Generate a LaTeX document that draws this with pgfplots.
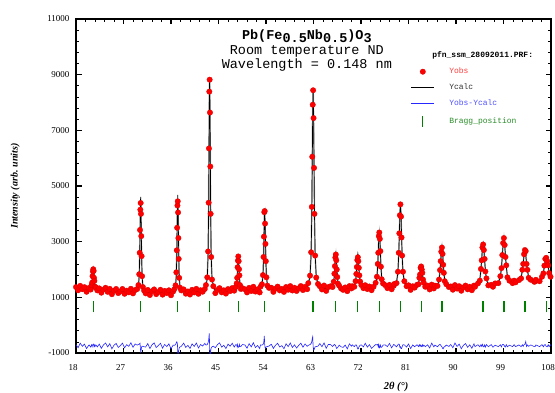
\documentclass[border=0pt]{standalone}
\usepackage{fontspec}
\setmainfont{Liberation Serif}
\setmonofont{Liberation Mono}
\usepackage{pgfplots}
\usepackage{pgfplotstable}
\pgfplotsset{compat=1.18}
\pgfplotsset{legend image code/.code={\draw[mark repeat=2,mark phase=2,#1] plot coordinates {(0cm,0cm) (0.4cm,0cm) (0.8cm,0cm)}; \path[draw=none,fill=none] (0cm,0cm) -- (1.33cm,0cm);}}
\pgfdeclareplotmark{vbar}{\pgfpathmoveto{\pgfqpoint{0pt}{-\pgfplotmarksize}}\pgfpathlineto{\pgfqpoint{0pt}{\pgfplotmarksize}}\pgfusepathqstroke}
\definecolor{obsred}{RGB}{255,0,0}
\definecolor{braggreen}{RGB}{0,128,0}
\definecolor{legred}{RGB}{255,60,60}
\definecolor{legblue}{RGB}{80,80,255}
\definecolor{leggreen}{RGB}{40,140,40}
\pgfplotstableread{
x y
21.27 660
30.25 660
37.28 660
43.32 660
48.75 660
53.75 660
62.93 660
67.23 660
71.40 660
75.47 660
79.47 660
83.40 660
87.33 660
95.14 660
99.07 660
103.05 660
107.10 660
}\bragg
\pgfplotstableread{
x obs calc
18.0 1370 1330
18.4 1254 1324
18.8 1413 1318
19.2 1292 1312
19.6 1366 1306
20.0 1200 1300
20.4 1310 1295
20.50 1340 1310
20.78 1280 1326
20.96 1440 1405
21.06 1530 1557
21.13 1760 1723
21.20 1930 1900
21.27 2010 1985
21.34 1950 1900
21.41 1700 1723
21.48 1590 1557
21.59 1380 1405
21.76 1360 1326
22.04 1250 1290
22.4 1323 1263
22.8 1167 1257
23.2 1280 1250
23.6 1343 1243
24.0 1197 1237
24.4 1305 1230
24.8 1113 1223
25.2 1239 1219
25.6 1301 1216
26.0 1153 1213
26.4 1214 1209
26.8 1301 1206
27.2 1128 1203
27.6 1240 1200
28.0 1180 1200
28.4 1308 1198
28.8 1142 1197
29.2 1260 1195
29.59 1300 1276
29.83 1440 1392
29.98 1830 1775
30.07 2600 2520
30.13 3420 3331
30.19 4150 4193
30.25 4390 4610
30.31 4000 4193
30.37 3200 3331
30.43 2480 2520
30.52 1760 1775
30.67 1370 1392
30.91 1240 1276
31.2 1143 1188
31.6 1266 1186
32.0 1084 1184
32.4 1217 1182
32.8 1285 1180
33.2 1115 1180
33.6 1191 1181
34.0 1271 1181
34.4 1097 1182
34.8 1232 1182
35.2 1153 1183
35.6 1253 1183
36.0 1074 1184
36.4 1209 1184
36.62 1290 1273
36.86 1430 1392
37.01 1900 1784
37.10 2690 2547
37.16 3500 3376
37.22 4300 4258
37.28 4450 4685
37.34 4050 4258
37.40 3130 3376
37.46 2380 2547
37.55 1700 1784
37.70 1350 1392
37.94 1250 1273
38.4 1285 1190
38.8 1132 1192
39.2 1210 1195
39.6 1102 1197
40.0 1270 1200
40.4 1177 1202
40.8 1305 1205
41.2 1127 1207
41.6 1255 1210
42.0 1202 1212
42.4 1300 1215
42.62 1440 1416
42.87 1720 1676
43.03 2650 2533
43.13 4400 4201
43.19 6350 6014
43.26 8390 7942
43.32 8820 8875
43.38 7640 7942
43.45 5700 6014
43.51 4000 4201
43.61 2450 2533
43.77 1640 1676
44.02 1400 1416
44.4 1152 1222
44.8 1264 1224
45.2 1331 1226
45.6 1179 1229
46.0 1252 1232
46.4 1135 1235
46.8 1297 1237
47.2 1225 1240
47.6 1333 1243
47.98 1240 1286
48.26 1370 1329
48.44 1500 1469
48.54 1700 1741
48.61 2080 2038
48.68 2320 2353
48.75 2470 2505
48.82 2300 2353
48.89 2010 2038
48.96 1790 1741
49.07 1440 1469
49.24 1300 1329
49.52 1330 1286
50.0 1290 1260
50.4 1177 1262
50.8 1340 1265
51.2 1227 1267
51.6 1380 1270
52.0 1207 1272
52.4 1284 1274
52.8 1177 1277
52.94 1380 1352
53.23 1470 1446
53.42 1800 1755
53.53 2450 2357
53.60 3180 3011
53.68 4060 3706
53.75 4100 4043
53.82 3650 3706
53.90 2920 3011
53.97 2300 2357
54.08 1720 1755
54.27 1420 1446
54.56 1340 1352
55.0 1345 1290
55.4 1197 1292
55.8 1313 1293
56.2 1385 1295
56.6 1251 1296
57.0 1303 1298
57.4 1195 1300
57.8 1371 1301
58.2 1273 1303
58.6 1404 1304
59.0 1246 1306
59.4 1343 1308
59.8 1229 1309
60.2 1326 1311
60.6 1406 1311
61.0 1262 1312
61.4 1377 1312
61.8 1293 1313
62.01 1510 1494
62.34 1780 1737
62.55 2620 2538
62.68 4250 4096
62.76 6050 5791
62.85 7920 7593
62.93 8440 8465
63.01 7440 7593
63.10 5650 5791
63.18 4000 4096
63.31 2500 2538
63.52 1710 1737
63.85 1480 1494
64.2 1398 1318
64.6 1284 1319
65.0 1425 1320
65.4 1231 1321
65.8 1367 1322
66.24 1400 1356
66.60 1370 1398
66.83 1560 1535
66.96 1850 1803
67.05 2120 2095
67.14 2430 2405
67.23 2540 2555
67.32 2330 2405
67.41 2000 2095
67.50 1730 1803
67.63 1490 1535
67.86 1420 1398
68.22 1320 1356
68.6 1269 1329
69.0 1355 1330
69.4 1222 1332
69.8 1404 1334
70.2 1321 1336
70.34 1400 1368
70.73 1380 1410
70.97 1580 1547
71.11 1840 1811
71.21 2090 2102
71.30 2340 2409
71.40 2440 2558
71.50 2300 2409
71.59 2060 2102
71.69 1790 1811
71.83 1570 1547
72.07 1440 1410
72.46 1330 1368
72.8 1436 1346
73.2 1298 1348
73.6 1390 1350
74.0 1257 1352
74.37 1380 1406
74.77 1520 1476
75.02 1740 1706
75.17 2200 2152
75.27 2600 2638
75.37 3200 3155
75.47 3330 3405
75.57 3100 3155
75.67 2660 2638
75.77 2100 2152
75.92 1650 1706
76.17 1500 1476
76.57 1440 1406
77.0 1331 1361
77.4 1448 1363
77.8 1289 1364
78.2 1416 1366
78.30 1480 1445
78.73 1510 1547
78.99 1920 1883
79.15 2600 2537
79.26 3300 3248
79.36 3950 4004
79.47 4340 4370
79.58 3900 4004
79.68 3150 3248
79.79 2500 2537
79.95 1920 1883
80.21 1580 1547
80.64 1400 1445
81.0 1434 1369
81.4 1268 1368
81.8 1397 1367
82.17 1350 1385
82.62 1450 1411
82.90 1470 1496
83.06 1700 1662
83.18 1820 1842
83.29 2060 2033
83.40 2110 2126
83.51 2000 2033
83.62 1880 1842
83.74 1640 1662
83.90 1520 1496
84.18 1380 1411
84.63 1420 1385
85.0 1285 1365
85.4 1458 1363
85.8 1321 1361
86.01 1420 1395
86.49 1410 1445
86.79 1640 1609
86.97 1980 1930
87.09 2300 2278
87.21 2640 2649
87.33 2790 2828
87.45 2560 2649
87.57 2170 2278
87.69 1880 1930
87.87 1580 1609
88.17 1470 1445
88.65 1370 1395
89.0 1390 1345
89.4 1273 1343
89.8 1441 1341
90.2 1315 1340
90.6 1401 1341
91.0 1237 1342
91.4 1357 1342
91.8 1423 1343
92.2 1288 1343
92.6 1379 1344
93.0 1255 1345
93.4 1422 1352
93.60 1380 1409
94.16 1500 1462
94.51 1600 1637
94.72 2020 1977
94.86 2330 2347
95.00 2790 2740
95.14 2900 2930
95.28 2700 2740
95.42 2380 2347
95.56 1930 1977
95.77 1680 1637
96.12 1430 1462
96.68 1450 1409
97.0 1380 1430
97.42 1500 1480
98.02 1510 1540
98.40 1760 1725
98.62 2050 2090
98.77 2520 2480
98.92 2950 2900
99.07 3130 3100
99.22 2880 2905
99.37 2450 2495
99.52 2150 2110
99.74 1720 1755
100.12 1600 1580
100.72 1510 1540
101.0 1600 1560
101.29 1540 1570
101.93 1620 1590
102.33 1680 1710
102.57 1990 1955
102.73 2200 2222
102.89 2550 2507
103.05 2700 2645
103.21 2660 2507
103.37 2200 2225
103.53 1990 1960
103.77 1700 1720
104.17 1630 1600
104.81 1560 1590
105.0 1570 1600
105.12 1630 1600
105.84 1580 1610
106.29 1740 1700
106.56 1860 1895
106.74 2140 2110
106.92 2380 2337
107.10 2420 2447
107.28 2300 2337
107.46 2150 2113
107.64 1870 1900
107.91 1740 1705
108.36 1560 1600
}\pattern
\pgfplotstablecreatecol[expr={\thisrow{obs}-\thisrow{calc}-740}]{diff}\pattern

\begin{document}
\begin{tikzpicture}
\begin{axis}[
  width=475pt, height=334pt, scale only axis,
  xmin=18, xmax=108, ymin=-1000, ymax=11000,
  xtick={18,27,...,108}, ytick={-1000,1000,...,11000},
  minor x tick num=4, minor y tick num=4,
  tick align=inside,
  major tick length=5.5pt, minor tick length=3pt,
  every major tick/.append style={line width=1.6pt, black},
  every minor tick/.append style={line width=0.7pt, black},
  axis line style={line width=2pt},
  /pgf/number format/assume math mode=true,
  /pgf/number format/1000 sep={},
  scaled ticks=false,
  ticklabel style={font=\fontsize{9}{10}\selectfont},
  xticklabel style={yshift=-8pt, xshift=-3pt},
  yticklabel style={xshift=-3pt},
  xlabel={\textbf{\textit{2θ (°)}}},
  xlabel style={at={(axis description cs:0.674,-0.101)}, anchor=center, font=\fontsize{10.5}{12}\selectfont},
  ylabel={\textbf{\textit{Intensity (arb. units)}}},
  ylabel style={at={(axis description cs:-0.128,0.5)}, anchor=center, font=\fontsize{10}{12}\selectfont},
  legend style={at={(axis description cs:0.705,0.902)}, anchor=north west,
    draw=none, fill=none, inner sep=0pt, row sep=8.5pt,
    font=\fontsize{8}{9}\selectfont\ttfamily,
    nodes={inner sep=0pt, text height=6pt, text depth=1.5pt}},
  legend cell align=left,
]
\addlegendimage{empty legend}
\addlegendentry{\hspace*{-17pt}\textbf{pfn\_ssm\_28092011.PRF:}}
\addplot[gray!55, line width=1.6pt, forget plot] table[x=x, y=obs] {\pattern};
\addplot[only marks, mark=*, mark size=2.75pt, color=obsred, mark options={fill=obsred, draw=obsred!85!black, line width=0.3pt}] table[x=x, y=obs] {\pattern};
\addlegendentry{\textcolor{legred}{Yobs}}
\addplot[black, line width=0.7pt] table[x=x, y=calc] {\pattern};
\addlegendentry{\textcolor{black!80}{Ycalc}}
\addplot[blue!85, line width=0.6pt] table[x=x, y=diff] {\pattern};
\addlegendentry{\textcolor{legblue}{Yobs-Ycalc}}
\addplot[only marks, mark=vbar, mark size=5.5pt, draw=braggreen, line width=1.3pt] table[x=x, y=y] {\bragg};
\addlegendentry{\textcolor{leggreen}{Bragg\_position}}
\node[anchor=base, font=\fontsize{13.5}{14}\selectfont\ttfamily\bfseries] at (axis description cs:0.486,0.940) {Pb(Fe\raisebox{-3pt}{0.5}Nb\raisebox{-3pt}{0.5})O\raisebox{-3pt}{3}};
\node[anchor=base, font=\fontsize{13.5}{14}\selectfont\ttfamily] at (axis description cs:0.486,0.894) {Room temperature ND};
\node[anchor=base, font=\fontsize{13.5}{14}\selectfont\ttfamily] at (axis description cs:0.486,0.853) {Wavelength = 0.148 nm};
\coordinate (bl) at (rel axis cs:-0.16,-0.1168);
\coordinate (tr) at (rel axis cs:1.0084,1.0569);
\end{axis}
\pgfresetboundingbox
\path[use as bounding box] (bl) rectangle (tr);
\end{tikzpicture}
\end{document}
